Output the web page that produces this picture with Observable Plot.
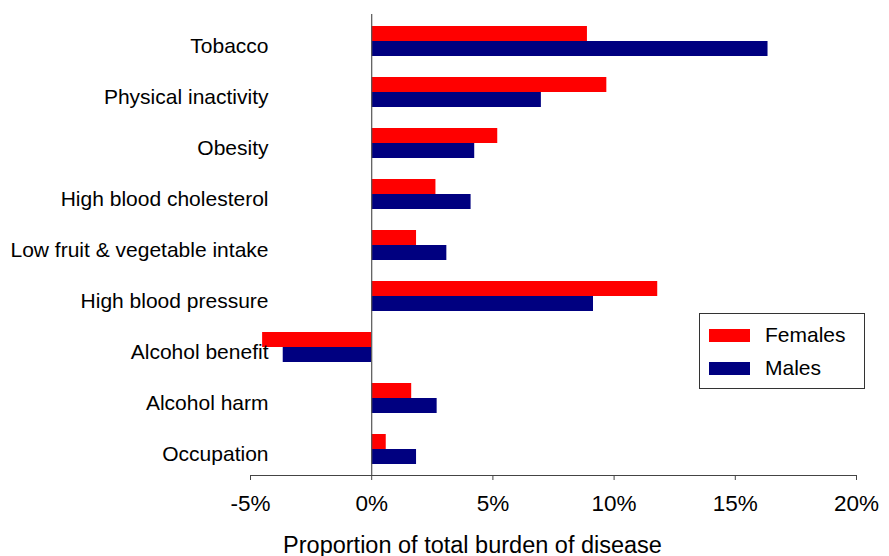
<!DOCTYPE html>
<html>
<head>
<meta charset="utf-8">
<script src="https://cdn.jsdelivr.net/npm/d3@7"></script>
<script src="https://cdn.jsdelivr.net/npm/@observablehq/plot@0.6"></script>
<style>
  html, body { margin: 0; padding: 0; background: #fff; }
  #wrap { position: relative; width: 889px; height: 556px; font-family: "Liberation Sans", Arial, sans-serif; }
  #legend { position: absolute; left: 699px; top: 313px; width: 164px; height: 74px; border: 1px solid #333; background: #fff; box-sizing: content-box; }
  .item { position: absolute; left: 0; display: flex; align-items: center; font-size: 21px; color: #000; }
  .sw { width: 41px; height: 13px; margin-left: 9px; margin-right: 15px; }
</style>
</head>
<body>
<div id="wrap"></div>
<script>
const categories = [
  "Tobacco",
  "Physical inactivity",
  "Obesity",
  "High blood cholesterol",
  "Low fruit & vegetable intake",
  "High blood pressure",
  "Alcohol benefit",
  "Alcohol harm",
  "Occupation"
];
const females = [8.9, 9.7, 5.2, 2.65, 1.85, 11.8, -4.5, 1.65, 0.6];
const males   = [16.35, 7.0, 4.25, 4.1, 3.1, 9.15, -3.65, 2.7, 1.85];
const seriesNames = ["Females", "Males"];
const seriesColors = ["#FF0000", "#000080"];
const xTicks = [-5, 0, 5, 10, 15, 20];
const axisTitle = "Proportion of total burden of disease";

const femaleData = categories.map((c, i) => ({category: c, value: females[i]}));
const maleData = categories.map((c, i) => ({category: c, value: males[i]}));

const chart = Plot.plot({
  width: 889,
  height: 556,
  marginLeft: 250,
  marginRight: 33,
  marginTop: 14,
  marginBottom: 81,
  style: {fontFamily: "'Liberation Sans', Arial, sans-serif", background: "#fff", color: "#000"},
  x: {domain: [-5, 20]},
  y: {domain: categories, paddingInner: 0.414, paddingOuter: 0.207},
  marks: [
    Plot.barX(femaleData, {y: "category", x: "value", fill: seriesColors[0], insetBottom: 15}),
    Plot.barX(maleData, {y: "category", x: "value", fill: seriesColors[1], insetTop: 15}),
    Plot.ruleX([0], {stroke: "#555", strokeWidth: 1.2}),
    Plot.frame({anchor: "bottom", stroke: "#444"}),
    Plot.axisX({ticks: xTicks, tickSize: 5, tickPadding: 15, tickFormat: d => `${d}%`, label: null, fontSize: 22.5, stroke: "#444"}),
    Plot.axisY({anchor: "left", tickSize: 0, tickPadding: 0, dx: 18, dy: 5, label: null, fontSize: 21}),
    Plot.text([axisTitle], {frameAnchor: "bottom", dx: -81, dy: 77, fontSize: 23.5, fill: "#000"})
  ]
});
const wrap = document.getElementById("wrap");
wrap.appendChild(chart);

const legend = document.createElement("div");
legend.id = "legend";
seriesNames.forEach((name, i) => {
  const item = document.createElement("div");
  item.className = "item";
  item.style.top = (i === 0 ? 9 : 42) + "px";
  const sw = document.createElement("span");
  sw.className = "sw";
  sw.style.background = seriesColors[i];
  const label = document.createElement("span");
  label.textContent = name;
  item.appendChild(sw);
  item.appendChild(label);
  legend.appendChild(item);
});
wrap.appendChild(legend);
</script>
</body>
</html>
